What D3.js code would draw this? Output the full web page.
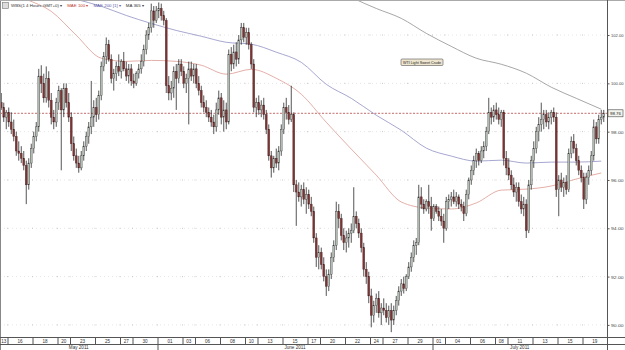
<!DOCTYPE html>
<html>
<head>
<meta charset="utf-8">
<script src="https://cdn.jsdelivr.net/npm/d3@7"></script>
<style>
  body { margin: 0; background: #fff; }
  svg { display: block; font-family: "Liberation Sans", Arial, sans-serif; }
</style>
</head>
<body>
<svg id="chart" width="625" height="350"></svg>
<script>
// 4-hour bars, WTI crude, 13 May - 20 Jul 2011: [open, high, low, close]
const bars = [
  [99.2,99.6,98.9,99.0],[99.0,99.2,98.4,98.6],[98.6,98.9,98.1,98.8],[98.8,99.0,98.2,98.4],
  [98.4,98.8,97.9,98.1],[98.1,98.5,97.6,97.8],[97.8,98.0,97.0,97.2],[97.2,97.6,96.8,97.1],
  [97.1,97.4,96.7,96.9],[96.9,97.2,96.4,96.6],[96.6,96.8,95.0,95.8],[95.8,96.9,95.6,96.7],
  [96.7,97.5,96.5,97.3],[97.3,98.0,97.1,97.8],[97.8,98.4,97.6,98.2],[98.2,100.6,98.0,100.3],
  [100.3,100.75,99.6,100.0],[100.0,100.4,99.2,99.4],[99.4,100.7,99.2,100.2],[100.2,100.5,99.0,99.3],
  [99.3,99.6,98.3,98.6],[98.6,98.9,98.1,98.4],[98.4,99.4,98.2,99.2],[99.2,99.9,98.9,99.7],
  [99.7,99.8,96.4,98.9],[98.9,100.0,98.6,99.8],[99.8,100.0,99.0,99.2],[99.2,99.6,98.4,98.6],
  [98.6,98.8,97.2,97.5],[97.5,97.8,96.8,97.0],[97.0,97.3,96.5,96.7],[96.7,97.0,96.3,96.5],
  [96.5,97.2,96.4,97.0],[97.0,97.6,96.8,97.4],[97.4,98.0,97.2,97.8],[97.8,98.4,97.5,98.2],
  [98.2,100.1,97.9,98.6],[98.6,99.3,98.2,99.0],[99.0,99.4,98.4,98.7],[98.7,99.7,98.5,99.5],
  [99.5,100.9,99.3,100.7],[100.7,101.3,100.5,101.1],[101.1,101.9,100.8,101.6],[101.6,101.8,100.9,101.0],
  [101.0,101.2,100.0,100.2],[100.2,100.6,99.7,100.4],[100.4,100.9,100.1,100.7],[100.7,101.2,100.3,100.5],
  [100.5,101.0,100.2,100.9],[100.9,101.3,100.5,100.6],[100.6,100.9,100.1,100.3],[100.3,100.8,100.0,100.6],
  [100.6,100.8,99.9,100.1],[100.1,100.4,99.8,100.0],[100.0,100.5,99.9,100.4],[100.4,100.8,100.2,100.6],
  [100.6,101.2,100.4,100.9],[100.9,101.6,100.7,101.4],[101.4,102.2,101.2,102.0],[102.0,102.5,101.8,102.3],
  [102.3,103.3,102.1,103.0],[103.0,103.2,102.3,102.6],[102.6,103.2,102.5,103.0],[103.0,103.35,102.7,103.1],
  [103.1,103.3,102.6,102.8],[102.8,103.0,102.4,102.6],[102.6,102.7,99.6,99.9],[99.9,100.3,99.3,99.6],
  [99.6,100.1,99.3,99.8],[99.8,100.7,99.4,100.5],[100.5,100.8,98.9,100.2],[100.2,101.0,100.0,100.8],
  [100.8,101.0,100.3,100.5],[100.5,100.7,99.8,100.0],[100.0,100.4,99.6,100.2],[100.2,100.9,98.3,100.6],
  [100.6,100.9,100.1,100.3],[100.3,100.8,100.0,100.6],[100.6,100.8,99.8,100.0],[100.0,100.3,99.5,99.7],
  [99.7,99.9,99.0,99.2],[99.2,99.5,98.8,99.0],[99.0,99.3,98.6,98.8],[98.8,99.0,98.4,98.6],
  [98.6,98.9,98.2,98.4],[98.4,98.7,97.9,98.2],[98.2,99.2,98.0,98.9],[98.9,99.7,98.7,99.4],
  [99.4,99.6,98.3,98.6],[98.6,99.3,98.0,98.9],[98.9,99.2,98.1,98.4],[98.4,101.4,98.3,101.2],
  [101.2,101.5,100.5,100.8],[100.8,101.6,100.6,101.3],[101.3,101.7,100.7,101.0],[101.0,102.0,100.8,101.8],
  [101.8,102.5,101.6,102.3],[102.3,102.5,101.7,101.9],[101.9,102.3,101.6,102.1],[102.1,102.3,101.4,101.6],
  [101.6,101.7,100.6,100.8],[100.8,101.0,98.8,99.0],[99.0,99.4,98.6,99.2],[99.2,99.5,98.7,98.9],
  [98.9,99.3,98.6,99.1],[99.1,99.4,98.5,98.7],[98.7,98.9,97.9,98.1],[98.1,98.3,96.8,97.0],
  [97.0,97.2,96.1,96.5],[96.5,97.0,96.3,96.9],[96.9,97.3,96.5,96.7],[96.7,97.4,96.4,97.2],
  [97.2,98.3,97.0,98.1],[98.1,99.2,97.9,99.0],[99.0,99.4,98.5,98.8],[98.8,99.1,98.3,98.5],
  [98.5,99.9,98.4,98.7],[98.7,98.8,95.5,95.8],[95.8,96.0,94.1,95.5],[95.5,95.9,95.1,95.3],
  [95.3,95.8,94.9,95.6],[95.6,95.9,95.0,95.2],[95.2,95.7,94.6,95.4],[95.4,95.6,94.8,95.0],
  [95.0,95.3,94.5,94.7],[94.7,94.9,93.4,93.6],[93.6,93.8,92.4,92.8],[92.8,93.3,92.3,93.0],
  [93.0,93.2,92.3,92.5],[92.5,92.8,91.8,92.0],[92.0,92.3,91.2,91.6],[91.6,92.3,91.4,92.1],
  [92.1,93.0,91.9,92.8],[92.8,93.5,92.6,93.3],[93.3,95.1,93.1,94.7],[94.7,95.0,94.0,94.4],
  [94.4,94.6,93.5,93.7],[93.7,94.0,93.1,93.4],[93.4,93.9,93.0,93.6],[93.6,94.0,93.2,93.8],
  [93.8,94.2,93.4,93.9],[93.9,95.7,93.8,94.5],[94.5,94.7,94.0,94.2],[94.2,94.4,93.6,93.8],
  [93.8,94.0,93.0,93.2],[93.2,93.4,92.0,92.3],[92.3,92.6,91.7,92.0],[92.0,92.2,90.9,91.2],
  [91.2,91.5,89.9,90.4],[90.4,91.0,90.1,90.8],[90.8,91.3,90.5,91.1],[91.1,91.4,90.3,90.5],
  [90.5,90.9,90.0,90.7],[90.7,91.1,90.4,90.6],[90.6,90.9,90.1,90.3],[90.3,90.8,90.0,90.6],
  [90.6,90.9,89.7,90.2],[90.2,90.8,90.0,90.6],[90.6,91.2,90.4,91.0],[91.0,91.6,90.8,91.4],
  [91.4,91.9,91.2,91.7],[91.7,92.0,91.3,91.5],[91.5,92.1,91.4,92.0],[92.0,92.6,91.9,92.4],
  [92.4,93.0,92.2,92.8],[92.8,93.5,92.6,93.3],[93.3,93.6,92.9,93.4],[93.4,95.8,93.3,95.3],
  [95.3,95.7,94.8,95.0],[95.0,95.2,94.6,94.8],[94.8,95.2,94.7,95.1],[95.1,95.8,94.6,94.9],
  [94.9,95.3,93.9,94.4],[94.4,95.0,94.3,94.9],[94.9,95.0,94.6,94.7],[94.7,94.9,94.3,94.5],
  [94.5,94.8,94.1,94.3],[94.3,94.6,93.4,94.0],[94.0,95.3,93.9,95.1],[95.1,95.4,94.8,95.2],
  [95.2,95.5,94.9,95.3],[95.3,95.6,95.0,95.1],[95.1,95.5,94.9,95.3],[95.3,95.4,94.8,95.0],
  [95.0,95.2,94.7,94.9],[94.9,95.1,94.3,94.6],[94.6,95.6,94.5,95.4],[95.4,96.1,95.2,96.0],
  [96.0,96.6,95.8,96.4],[96.4,97.0,96.2,96.8],[96.8,97.3,96.5,97.1],[97.1,97.2,96.6,96.8],
  [96.8,97.4,96.7,97.2],[97.2,97.6,96.9,97.4],[97.4,98.2,97.2,98.0],[98.0,99.4,97.9,98.8],
  [98.8,99.0,98.3,98.6],[98.6,99.1,98.4,98.9],[98.9,99.2,98.5,98.7],[98.7,99.0,98.3,98.5],
  [98.5,98.9,98.2,98.8],[98.8,98.9,96.6,96.9],[96.9,97.2,96.2,96.5],[96.5,96.9,96.0,96.2],
  [96.2,96.4,95.6,95.8],[95.8,96.1,95.3,95.5],[95.5,95.9,95.1,95.7],[95.7,95.9,94.9,95.1],
  [95.1,95.4,94.6,94.8],[94.8,95.3,94.5,95.0],[95.0,95.2,93.6,93.9],[93.9,96.0,93.8,95.8],
  [95.8,97.0,95.6,96.8],[96.8,97.6,96.5,97.3],[97.3,98.2,97.1,98.0],[98.0,98.6,97.6,98.3],
  [98.3,99.2,98.0,98.5],[98.5,98.9,98.1,98.7],[98.7,98.9,98.2,98.4],[98.4,98.8,98.1,98.6],
  [98.6,98.9,98.3,98.8],[98.8,99.0,98.4,98.6],[98.6,98.8,95.3,95.6],[95.6,96.2,94.5,96.0],
  [96.0,96.3,95.5,95.7],[95.7,96.1,95.3,95.9],[95.9,96.2,95.4,95.6],[95.6,97.3,95.5,97.1],
  [97.1,97.8,96.9,97.6],[97.6,97.9,97.1,97.3],[97.3,97.5,96.6,96.8],[96.8,97.0,96.2,96.4],
  [96.4,96.6,95.9,96.1],[96.1,96.3,94.8,95.2],[95.2,96.3,95.0,96.1],[96.1,96.6,95.8,96.4],
  [96.4,97.2,96.2,97.0],[97.0,98.5,96.8,98.2],[98.2,98.4,97.5,97.7],[97.7,98.7,97.5,98.5],
  [98.5,98.9,98.3,98.6],[98.6,98.9,98.4,98.76]
];

// moving averages, one reading every 10 bars (bar 0, 10, ... 240)
const maStep = 10;
const mae100 = [103.93,103.48,102.98,101.99,101.04,100.91,100.95,100.91,100.75,100.38,100.58,100.21,
  99.55,98.39,97.28,96.20,95.09,94.84,94.80,95.05,95.58,95.62,95.75,96.04,96.29];
const mae200 = [104.3,104.05,103.8,103.48,103.19,102.81,102.48,102.19,101.95,101.70,101.62,101.29,
  100.87,99.96,99.38,98.68,98.06,97.32,96.99,96.78,96.82,96.70,96.74,96.74,96.78];
const ma365 = [null,null,null,null,null,null,null,null,null,null,null,null,
  104.7,104.1,103.56,103.1,102.69,102.07,101.53,101.04,100.79,100.42,99.84,99.38,98.93];

// date axis: trading-day number of each labelled day (13 May = 0), 5 bars per day
const dayLabels = ["13","16","18","20","23","25","27","30","01","03","06","08","10","13","15","17",
  "20","22","24","27","29","01","04","06","08","11","13","15","19"];
const dayNums = [0,1,3,5,6,8,10,11,13,15,16,18,20,21,23,25,26,28,30,31,33,35,36,38,40,41,43,45,47];
const months = ["May 2011","June 2011","July 2011"];
const monthDayNums = [0,13,35];
const barsPerDay = 5, firstDayBars = 3;

const priceTicks = [90,92,94,96,98,100,102];
const lastPrice = 98.76;

const W = 625, H = 350, plotR = 607, plotB = 337;
const svg = d3.select("#chart");

const x = d3.scaleLinear().domain([0, 242.8]).range([0, plotR]);
const y = d3.scaleLinear().domain([89.5, 103.45]).range([plotB, 0]);
const dayBar = d => d === 0 ? -2 : firstDayBars + (d - 1) * barsPerDay;

svg.append("defs").append("clipPath").attr("id", "plot")
  .append("rect").attr("x", 0).attr("y", 0).attr("width", plotR).attr("height", plotB);

// grid: faint dotted rows, darker dots where they cross the date ticks
const grid = svg.append("g");
grid.selectAll(".hg").data(priceTicks).join("line")
  .attr("x1", 0).attr("x2", plotR).attr("y1", d => y(d)).attr("y2", d => y(d))
  .attr("stroke", "#e6e6e6").attr("stroke-dasharray", "1,3");
priceTicks.forEach(p => {
  grid.selectAll(null).data(dayNums.slice(1)).join("rect")
    .attr("x", d => x(dayBar(d)) - 0.5).attr("y", y(p) - 0.5)
    .attr("width", 1).attr("height", 1).attr("fill", "#c8c8c8");
});

const plot = svg.append("g").attr("clip-path", "url(#plot)");

// last price line
plot.append("line")
  .attr("x1", 0).attr("x2", plotR).attr("y1", y(lastPrice)).attr("y2", y(lastPrice))
  .attr("stroke", "#b84444").attr("stroke-width", 0.8).attr("stroke-dasharray", "2,1.5");

// moving averages
const maLine = d3.line()
  .defined(d => d != null)
  .x((d, i) => x(i * maStep + 0.5))
  .y(d => y(d))
  .curve(d3.curveMonotoneX);
[[mae100, "#dc9a92"], [mae200, "#9090c4"], [ma365, "#909090"]].forEach(([s, c]) => {
  plot.append("path").datum(s).attr("d", maLine)
    .attr("fill", "none").attr("stroke", c).attr("stroke-width", 0.8);
});

// candles
const cg = plot.append("g");
cg.selectAll(".wick").data(bars).join("line")
  .attr("x1", (d, i) => x(i + 0.5)).attr("x2", (d, i) => x(i + 0.5))
  .attr("y1", d => y(d[1])).attr("y2", d => y(d[2]))
  .attr("stroke", "#2a2a2a").attr("stroke-width", 0.8);
cg.selectAll(".body").data(bars).join("rect")
  .attr("x", (d, i) => x(i + 0.5) - 0.9)
  .attr("width", 1.8)
  .attr("y", d => y(Math.max(d[0], d[3])))
  .attr("height", d => Math.max(0.8, Math.abs(y(d[0]) - y(d[3]))))
  .attr("fill", d => d[3] >= d[0] ? "#b9c3b9" : "#7d3434")
  .attr("stroke", d => d[3] >= d[0] ? "#3a3a3a" : "#4a1f1f")
  .attr("stroke-width", 0.4);

// frame
svg.append("line").attr("x1", 0.5).attr("x2", 0.5).attr("y1", 0).attr("y2", H).attr("stroke", "#888");
svg.append("line").attr("x1", 0).attr("x2", W).attr("y1", 0.5).attr("y2", 0.5).attr("stroke", "#aaa");

// right price axis
const ax = svg.append("g").attr("transform", `translate(${plotR},0)`)
  .call(d3.axisRight(y).tickValues(priceTicks).tickFormat(d3.format(".2f")).tickSize(2.5).tickPadding(1.5));
ax.select(".domain").attr("stroke", "#555").attr("d", `M0.5,0V${H}`);
ax.selectAll(".tick line").attr("stroke", "#555");
ax.selectAll(".tick text").attr("fill", "#444").style("font-size", "4.4px")
  .attr("textLength", 12.5).attr("lengthAdjust", "spacingAndGlyphs");

// last price tag
const tag = svg.append("g").attr("transform", `translate(${plotR + 1},${y(lastPrice)})`);
tag.append("rect").attr("x", 0).attr("y", -3.5).attr("width", 15).attr("height", 7)
  .attr("fill", "#f4f4ee").attr("stroke", "#444").attr("stroke-width", 0.6);
tag.append("text").attr("x", 7.5).attr("y", 1.6).attr("text-anchor", "middle")
  .style("font-size", "4.4px").attr("fill", "#222").text(lastPrice.toFixed(2));

// date axis
const da = svg.append("g");
da.append("line").attr("x1", 0).attr("x2", W).attr("y1", plotB + 0.5).attr("y2", plotB + 0.5).attr("stroke", "#555");
da.append("line").attr("x1", 0).attr("x2", W).attr("y1", 344.5).attr("y2", 344.5).attr("stroke", "#555");
dayNums.forEach((d, k) => {
  const xs = Math.max(0, x(dayBar(d)));
  const xe = k < dayNums.length - 1 ? x(dayBar(dayNums[k + 1])) : plotR;
  if (k > 0) da.append("line").attr("x1", xs + 0.5).attr("x2", xs + 0.5)
    .attr("y1", plotB).attr("y2", 344.5).attr("stroke", "#555");
  da.append("text").attr("x", (xs + xe) / 2).attr("y", 342.6).attr("text-anchor", "middle")
    .style("font-size", "4.6px").attr("fill", "#333").text(dayLabels[k]);
});
monthDayNums.forEach((d, k) => {
  const xs = Math.max(0, x(dayBar(d)));
  const xe = k < monthDayNums.length - 1 ? x(dayBar(monthDayNums[k + 1])) : plotR;
  if (k > 0) da.append("line").attr("x1", xs + 0.5).attr("x2", xs + 0.5)
    .attr("y1", 344.5).attr("y2", H).attr("stroke", "#555");
  da.append("text").attr("x", (xs + xe) / 2).attr("y", 349.3).attr("text-anchor", "middle")
    .style("font-size", "4.6px").attr("fill", "#333").text(months[k]);
});
da.append("line").attr("x1", plotR + 0.5).attr("x2", plotR + 0.5).attr("y1", plotB).attr("y2", H).attr("stroke", "#555");

// legend, items laid out one after another
const lg = svg.append("g").style("font-size", "4.4px");
lg.append("rect").attr("x", 2.5).attr("y", 2.5).attr("width", 6).attr("height", 6)
  .attr("fill", "#ddd").attr("stroke", "#777").attr("stroke-width", 0.6);
const legendItems = [
  ["WBS(1 4 Hours GMT+0) \u25BE", "#333"],
  ["MAE 100 \u25BE", "#c0392b"],
  ["MAE 200 [1] \u25BE", "#5a5aa8"],
  ["MA 365 \u25BE", "#333"]
];
let lx = 11;
legendItems.forEach(([t, c]) => {
  const tx = lg.append("text").attr("x", lx).attr("y", 7.3).attr("fill", c).text(t);
  lx += tx.node().getComputedTextLength() + 5;
});

// instrument note
const note = svg.append("g").attr("transform", "translate(401,59)");
note.append("rect").attr("width", 42).attr("height", 6.5).attr("rx", 1)
  .attr("fill", "#efe6cf").attr("stroke", "#555").attr("stroke-width", 0.6);
note.append("text").attr("x", 21).attr("y", 4.7).attr("text-anchor", "middle")
  .style("font-size", "4.3px").attr("fill", "#222")
  .attr("textLength", 38).attr("lengthAdjust", "spacingAndGlyphs")
  .text("WTI Light Sweet Crude");
</script>
</body>
</html>
